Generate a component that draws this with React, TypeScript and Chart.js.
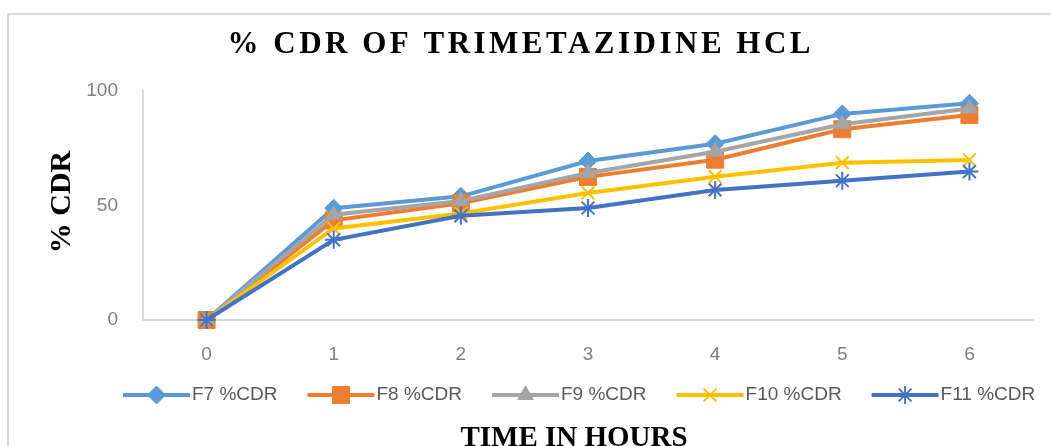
import { useEffect, useRef } from 'react';
import { Chart, registerables } from 'chart.js';
import { drawPoint } from 'chart.js/helpers';

Chart.register(...registerables);

// Time points (hours)
const hours = ['0', '1', '2', '3', '4', '5', '6'];

// Cumulative drug release (%) per formulation
const f7 = [0, 48.8, 54, 69.4, 77, 90, 94.6];
const f8 = [0, 43.5, 51, 62.5, 70, 83.3, 89.5];
const f9 = [0, 46, 52, 64.2, 73.5, 85.5, 92.4];
const f10 = [0, 40, 46.5, 55.5, 62.6, 68.7, 69.9];
const f11 = [0, 35, 45.5, 48.9, 56.8, 60.8, 64.8];

const seriesNames = ['F7 %CDR', 'F8 %CDR', 'F9 %CDR', 'F10 %CDR', 'F11 %CDR'];
const seriesValues = [f7, f8, f9, f10, f11];
const seriesColors = ['#5B9BD5', '#ED7D31', '#A5A5A5', '#FFC000', '#4472C4'];
const markerStyles = ['rectRot', 'rect', 'triangle', 'crossRot', 'star'];
const markerRadii = [9, 12, 9, 9, 9];
const markerBorders = [1, 1, 1, 2, 2];

const yMin = 0;
const yMax = 100;
const yStep = 50;

const chartTitle = '% CDR OF TRIMETAZIDINE HCL';
const yTitle = '% CDR';
const xTitle = 'TIME IN HOURS';

const SANS = '"Liberation Sans", Arial, sans-serif';
const SERIF = '"Liberation Serif", "Times New Roman", serif';
const LEGEND_FONT = `19px ${SANS}`;
const LEGEND_LINE = 67;
const LEGEND_TEXT_GAP = 2;
const LEGEND_ITEM_GAP = 30;
const LEGEND_LEFT = 123;
const LEGEND_Y = 395;

function spacedText(
  ctx: CanvasRenderingContext2D,
  text: string,
  cx: number,
  baseline: number,
  font: string,
  spacing: number,
) {
  ctx.save();
  ctx.font = font;
  (ctx as any).letterSpacing = spacing + 'px';
  ctx.fillStyle = '#000000';
  ctx.textAlign = 'left';
  ctx.textBaseline = 'alphabetic';
  const w = ctx.measureText(text).width - spacing;
  ctx.fillText(text, cx - w / 2, baseline);
  ctx.restore();
}

function drawMarker(ctx: CanvasRenderingContext2D, ds: any, x: number, y: number) {
  ctx.save();
  ctx.fillStyle = ds.pointBackgroundColor;
  ctx.strokeStyle = ds.pointBorderColor;
  ctx.lineWidth = ds.pointBorderWidth;
  drawPoint(
    ctx,
    {
      pointStyle: ds.pointStyle,
      radius: ds.pointRadius,
      rotation: 0,
      borderWidth: ds.pointBorderWidth,
    } as any,
    x,
    y,
  );
  ctx.restore();
}

// Legend row (line + marker + label) below the axis, plus chart/axis titles
const decorations = {
  id: 'decorations',
  afterDraw(chart: any) {
    const ctx: CanvasRenderingContext2D = chart.ctx;

    ctx.save();
    ctx.font = LEGEND_FONT;
    ctx.textBaseline = 'middle';
    ctx.textAlign = 'left';
    let x = LEGEND_LEFT;
    chart.data.datasets.forEach((ds: any) => {
      ctx.strokeStyle = ds.borderColor;
      ctx.lineWidth = ds.borderWidth;
      ctx.beginPath();
      ctx.moveTo(x, LEGEND_Y);
      ctx.lineTo(x + LEGEND_LINE, LEGEND_Y);
      ctx.stroke();
      drawMarker(ctx, ds, x + LEGEND_LINE / 2, LEGEND_Y);
      const tx = x + LEGEND_LINE + LEGEND_TEXT_GAP;
      ctx.fillStyle = '#595959';
      ctx.fillText(ds.label, tx, LEGEND_Y);
      x = tx + ctx.measureText(ds.label).width + LEGEND_ITEM_GAP;
    });
    ctx.restore();

    spacedText(ctx, chartTitle, 519, 53, `bold 31px ${SERIF}`, 3.5);
    spacedText(ctx, xTitle, 574, 446, `bold 29px ${SERIF}`, 0);

    ctx.save();
    ctx.translate(70, 202);
    ctx.rotate(-Math.PI / 2);
    spacedText(ctx, yTitle, 0, 0, `bold 30px ${SERIF}`, 0);
    ctx.restore();
  },
};

export default function App() {
  const canvasRef = useRef<HTMLCanvasElement | null>(null);

  useEffect(() => {
    const canvas = canvasRef.current;
    if (!canvas) return;

    const datasets = seriesValues.map((vals, i) => ({
      label: seriesNames[i],
      data: vals,
      borderColor: seriesColors[i],
      backgroundColor: seriesColors[i],
      borderWidth: 4,
      tension: 0,
      fill: false,
      clip: false as any,
      order: seriesValues.length - i,
      pointStyle: markerStyles[i],
      pointRadius: markerRadii[i],
      pointHoverRadius: markerRadii[i],
      pointBackgroundColor: seriesColors[i],
      pointBorderColor: seriesColors[i],
      pointBorderWidth: markerBorders[i],
    }));

    const chart = new Chart(canvas, {
      type: 'line',
      data: { labels: hours, datasets: datasets as any },
      options: {
        animation: false,
        responsive: false,
        events: [],
        layout: { padding: { left: 78, right: 18, top: 91, bottom: 82 } },
        plugins: {
          title: { display: false },
          tooltip: { enabled: false },
          legend: { display: false },
        },
        scales: {
          x: {
            type: 'category',
            offset: true,
            grid: { display: false, drawTicks: false, tickLength: 0 },
            border: { display: true, color: '#d9d9d9', width: 2 },
            ticks: {
              color: '#808080',
              font: { family: SANS, size: 19 },
              padding: 23,
              maxRotation: 0,
            },
            afterFit: (s: any) => {
              s.height = 44;
            },
          },
          y: {
            min: yMin,
            max: yMax,
            grid: { display: false, drawTicks: false, tickLength: 0 },
            border: { display: true, color: '#d9d9d9', width: 2 },
            ticks: {
              stepSize: yStep,
              color: '#808080',
              font: { family: SANS, size: 19 },
              padding: 25,
            },
            afterFit: (s: any) => {
              s.width = 65;
            },
          },
        },
      },
      plugins: [decorations],
    });

    return () => chart.destroy();
  }, []);

  return (
    <div
      style={{
        position: 'fixed',
        left: 0,
        top: 0,
        width: 1051,
        height: 446,
        overflow: 'hidden',
        background: '#ffffff',
      }}
    >
      <div
        style={{
          position: 'absolute',
          left: 7,
          top: 13,
          width: 1100,
          height: 500,
          border: '2px solid #d9d9d9',
        }}
      />
      <canvas
        ref={canvasRef}
        width={1051}
        height={446}
        style={{ position: 'absolute', left: 0, top: 0, width: 1051, height: 446 }}
      />
    </div>
  );
}
